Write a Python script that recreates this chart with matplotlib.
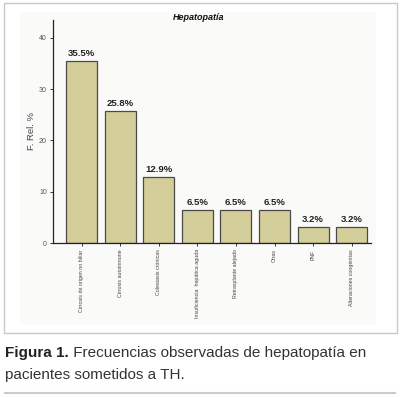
import matplotlib
matplotlib.use("Agg")
import matplotlib.pyplot as plt
from matplotlib.patches import Rectangle
from matplotlib.lines import Line2D

categories = [
    "Cirrosis de origen no biliar",
    "Cirrosis autoinmune",
    "Colestasis crónicas",
    "Insuficiencia  hepática aguda",
    "Retrasplante alejado",
    "Otras",
    "PNF",
    "Alteraciones congénitas",
]
values = [35.5, 25.8, 12.9, 6.5, 6.5, 6.5, 3.2, 3.2]
yticks = [0, 10, 20, 30, 40]

plt.rcParams["font.family"] = ["Liberation Sans", "DejaVu Sans"]

fig = plt.figure(figsize=(4.0, 3.98), dpi=100)
W, H = 400, 398


def fx(px):
    return px / W


def fy(py):
    return 1 - py / H


# outer frame around the chart
fig.add_artist(Rectangle((fx(4), fy(333)), fx(393), 330 / H, transform=fig.transFigure,
                         fill=False, edgecolor="#c8c8c8", lw=1.0))
# faint plot background
fig.add_artist(Rectangle((fx(20), fy(325)), fx(356), 313 / H, transform=fig.transFigure,
                         facecolor="#fafaf9", edgecolor="none", zorder=0))

ax = fig.add_axes([fx(53), fy(243), fx(318), (243 - 20) / H])
ax.set_facecolor("none")
x = list(range(len(values)))
ax.bar(x, values, width=0.8, color="#d4ce9a", edgecolor="#4a4a4a", linewidth=0.9)
for xi, v in zip(x, values):
    ax.text(xi, v + 0.6, f"{v:.1f}%", ha="center", va="bottom",
            fontsize=6.8, fontweight="bold", color="#222222")

ax.set_xlim(-0.74, 7.5)
ax.set_ylim(0, 43.5)
ax.set_yticks(yticks)
ax.set_yticklabels([str(t) for t in yticks], fontsize=5, color="#555555")
ax.set_xticks(x)
ax.set_xticklabels(categories, rotation=90, fontsize=3.8, color="#444444", va="top")
ax.tick_params(axis="both", direction="out", length=2.5, width=0.7, color="#333333", pad=2)
for s in ["top", "right"]:
    ax.spines[s].set_visible(False)
for s in ["left", "bottom"]:
    ax.spines[s].set_linewidth(0.9)
    ax.spines[s].set_color("#222222")
ax.set_ylabel("F. Rel. %", fontsize=6.8, color="#444444", labelpad=2)

fig.text(fx(199), fy(17), "Hepatopatía", ha="center", va="center",
         fontsize=6.5, fontweight="bold", fontstyle="italic", color="#111111")

# caption
t1 = fig.text(fx(5), fy(357), "Figura 1.", ha="left", va="baseline",
              fontsize=11, fontweight="bold", color="#222222",
              family=["Liberation Sans Narrow", "Liberation Sans", "DejaVu Sans"])
ax.annotate(" Frecuencias observadas de hepatopatía en", xy=(1, 0), xycoords=t1,
            ha="left", va="bottom", fontsize=11, color="#333333",
            annotation_clip=False)
fig.text(fx(5), fy(379), "pacientes sometidos a TH.", ha="left", va="baseline",
         fontsize=11, color="#333333")

fig.add_artist(Line2D([fx(5), fx(395)], [fy(393), fy(393)], transform=fig.transFigure,
                      color="#cccccc", lw=1.5))

fig.savefig("out.png", dpi=100)
